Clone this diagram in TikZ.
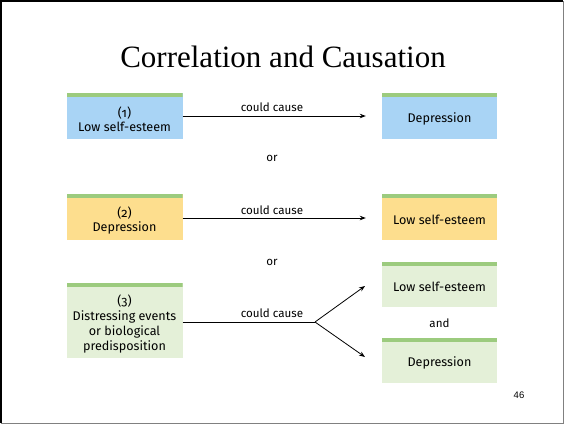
\documentclass[tikz,border=0pt]{standalone}
\usepackage{fontspec}
\setmainfont{Liberation Serif}
\newfontfamily\boxfont[Numbers=OldStyle]{Fira Sans}
\newfontfamily\numfont{Liberation Sans}
\usetikzlibrary{arrows.meta}
\definecolor{boxblue}{RGB}{169,212,245}
\definecolor{boxyellow}{RGB}{253,222,142}
\definecolor{boxgreen}{RGB}{228,240,216}
\definecolor{stripgreen}{RGB}{156,203,126}
\newcommand{\topgap}[1]{\rule{0pt}{#1}}
\tikzset{
  causebox/.style={minimum width=116pt, minimum height=46pt, inner sep=0pt,
    align=center, font=\boxfont\fontsize{12.6}{14.8}\selectfont,
    path picture={\fill[stripgreen] (path picture bounding box.north west)
      rectangle ([yshift=-4pt]path picture bounding box.north east);}},
  causelabel/.style={font=\boxfont\fontsize{11.6}{13}\selectfont},
  causearrow/.style={-{Stealth[length=6pt,width=4.5pt]}, line width=0.8pt}
}

\begin{document}
\begin{tikzpicture}[x=1pt,y=-1pt]
\useasboundingbox (0,0) rectangle (565,424);
\fill[white] (0,0) rectangle (565,424);
\draw[gray] (563,1) - - (563,423) - - (1,423);
\draw[line width=2.5pt] (1.2,423) - - (1.2,1) - - (563,1);

\node at (283,57) {\fontsize{31}{36}\selectfont Correlation and Causation};

\coordinate (A) at (124.5,116);
\coordinate (B) at (439.5,116);
\coordinate (C) at (124.5,217);
\coordinate (D) at (439.5,217);
\coordinate (E) at (124.5,320.5);
\coordinate (F) at (439.5,284);
\coordinate (G) at (439.5,360);
\coordinate (S) at (315,322);

\node[causebox, fill=boxblue] (lowA) at (A) {\topgap{17pt}(1)\\Low self-esteem};
\node[causebox, fill=boxblue, minimum width=115pt] (depB) at (B) {\topgap{15.5pt}Depression};
\node[causebox, fill=boxyellow] (depC) at (C) {\topgap{17.5pt}(2)\\Depression};
\node[causebox, fill=boxyellow, minimum width=115pt] (lowD) at (D) {\topgap{15.5pt}Low self-esteem};
\node[causebox, fill=boxgreen, minimum height=75pt] (evtE) at (E)
  {\topgap{17.5pt}(3)\\Distressing events\\or biological\\predisposition};
\node[causebox, fill=boxgreen, minimum width=115pt, minimum height=45pt] (lowF) at (F) {\topgap{15.5pt}Low self-esteem};
\node[causebox, fill=boxgreen, minimum width=115pt, minimum height=45pt] (depG) at (G) {\topgap{15.5pt}Depression};

\draw[causearrow] (lowA.east) - - ([xshift=-16pt]depB.west);
\draw[causearrow] (depC.east |- 0,218) - - ([xshift=-16pt]lowD.west |- 0,218);
\draw[line width=0.8pt] (evtE.east |- S) - - (S);
\draw[causearrow] (S) - - (365,286);
\draw[causearrow] (S) - - (365,357);

\node[causelabel] at (272,107) {could cause};
\node[causelabel] at (272,210) {could cause};
\node[causelabel] at (272,313) {could cause};
\node[causelabel] at (272,158) {or};
\node[causelabel] at (272,262) {or};
\node[causelabel] at (439.5,323) {and};

\node[font=\numfont\fontsize{9.5}{11}\selectfont] at (519,395) {46};
\end{tikzpicture}
\end{document}
